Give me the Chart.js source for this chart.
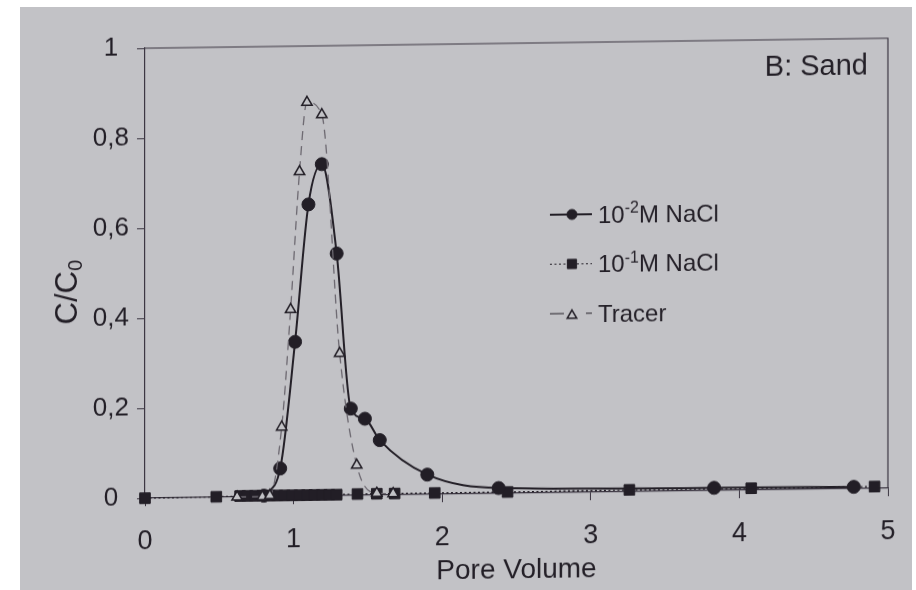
<!DOCTYPE html>
<html>
<head>
<meta charset="utf-8">
<title>B: Sand</title>
<script src="https://cdn.jsdelivr.net/npm/chart.js@4/dist/chart.umd.min.js"></script>
<style>
  html, body { margin: 0; padding: 0; background: #fff; }
  #sheet { position: absolute; left: 20px; top: 7px; width: 892px; height: 583px; background: #c2c2c6; }
  #wrap { position: absolute; left: 0; top: 0; width: 916px; height: 590px; transform: skewY(-0.77deg); }
  canvas { display: block; }
</style>
</head>
<body>
<div id="sheet"></div>
<div id="wrap"><canvas id="c" width="916" height="590"></canvas></div>
<script>
// breakthrough curves in the sand column
const lowSaltX = [0.80, 0.91, 1.01, 1.10, 1.19, 1.29, 1.385, 1.48, 1.58, 1.90, 2.38, 3.83, 4.77];
const lowSaltY = [0.002, 0.062, 0.343, 0.648, 0.737, 0.538, 0.193, 0.170, 0.122, 0.044, 0.012, 0.006, 0.004];

const highSaltX = [0, 0.48, 0.64, 0.69, 0.74, 0.79, 0.84, 0.89, 0.94, 0.99, 1.04, 1.09, 1.14, 1.19, 1.24, 1.29,
  1.43, 1.56, 1.68, 1.95, 2.44, 3.26, 4.08, 4.91];
const highSaltY = [0, 0.001, 0.002, 0.002, 0.002, 0.002, 0.002, 0.002, 0.002, 0.002, 0.002, 0.002, 0.002, 0.002, 0.002, 0.002,
  0.003, 0.003, 0.003, 0.003, 0.003, 0.004, 0.004, 0.004];

const tracerX = [0.62, 0.79, 0.84, 0.92, 0.98, 1.04, 1.09, 1.19, 1.31, 1.425, 1.56, 1.67];
const tracerY = [0, 0, 0.002, 0.154, 0.415, 0.721, 0.875, 0.847, 0.316, 0.067, 0.004, 0.003];

const seriesLabels = ['10⁻²M NaCl', '10⁻¹M NaCl', 'Tracer'];
const xTickLabels = ['0', '1', '2', '3', '4', '5'];
const yTickLabels = ['0', '0,2', '0,4', '0,6', '0,8', '1'];
const panelLabel = 'B: Sand';
const yTitle = 'C/C₀';
const xTitle = 'Pore Volume';

const INK = '#221e26';
const FRAME = '#3b3541';
const PAPER = '#c2c2c6';
const FONT = '"Liberation Sans", Arial, sans-serif';

function pairs(xs, ys) {
  return xs.map((x, i) => ({ x: x, y: ys[i] }));
}

// plain text with unicode super/subscripts drawn as real raised/lowered runs
const SUP = { '⁻': '-', '¹': '1', '²': '2' };
const SUB = { '₀': '0' };

function runs(text) {
  const out = [];
  for (const ch of text) {
    const kind = SUP[ch] ? 'sup' : SUB[ch] ? 'sub' : 'n';
    const c = SUP[ch] || SUB[ch] || ch;
    if (out.length && out[out.length - 1].kind === kind) out[out.length - 1].t += c;
    else out.push({ kind: kind, t: c });
  }
  return out;
}

function drawRich(ctx, text, x, y, size, align) {
  const parts = runs(text);
  const small = Math.round(size * 0.65);
  let total = 0;
  parts.forEach(p => {
    ctx.font = (p.kind === 'n' ? size : small) + 'px ' + FONT;
    p.w = ctx.measureText(p.t).width;
    total += p.w;
  });
  let cx = align === 'right' ? x - total : align === 'center' ? x - total / 2 : x;
  ctx.textAlign = 'left';
  ctx.textBaseline = 'alphabetic';
  parts.forEach(p => {
    ctx.font = (p.kind === 'n' ? size : small) + 'px ' + FONT;
    const dy = p.kind === 'sup' ? -0.39 * size : p.kind === 'sub' ? 0.16 * size : 0;
    ctx.fillText(p.t, cx, y + dy);
    cx += p.w;
  });
}

// legend sample: marker radius and line dash for each row
const legendMarkerRadius = [5, 6.5, 5.5];
const legendDash = [[], [2, 2.5], [14, 22, 6, 100]];

const decorations = {
  id: 'decorations',
  beforeDatasetsDraw(chart) {
    const { ctx, chartArea: a } = chart;
    ctx.save();
    ctx.strokeStyle = FRAME;
    ctx.lineWidth = 1.2;
    ctx.beginPath();
    ctx.moveTo(a.left, a.top);
    ctx.lineTo(a.right, a.top);
    ctx.lineTo(a.right, a.bottom);
    ctx.stroke();
    ctx.restore();
  },
  afterDraw(chart) {
    const { ctx } = chart;
    ctx.save();
    ctx.fillStyle = INK;
    drawRich(ctx, panelLabel, 868, 80, 29, 'right');

    // legend, inside the plot
    chart.data.datasets.forEach((ds, i) => {
      const y = 216 + i * 49.5;
      ctx.save();
      ctx.strokeStyle = INK;
      ctx.lineWidth = i === 0 ? 2 : 1.2;
      ctx.setLineDash(legendDash[i]);
      ctx.beginPath();
      ctx.moveTo(550, y);
      ctx.lineTo(592, y);
      ctx.stroke();
      ctx.setLineDash([]);
      ctx.fillStyle = ds.pointBackgroundColor;
      ctx.strokeStyle = ds.pointBorderColor;
      ctx.lineWidth = ds.pointBorderWidth;
      Chart.helpers.drawPoint(ctx, {
        pointStyle: ds.pointStyle,
        radius: legendMarkerRadius[i],
        rotation: 0,
        borderWidth: ds.pointBorderWidth
      }, 572, ds.pointStyle === 'triangle' ? y + 2 : y);
      ctx.restore();
      ctx.fillStyle = INK;
      drawRich(ctx, ds.label, 598, y + 8.6, 24, 'left');
    });

    // y axis title
    ctx.translate(66, 287);
    ctx.rotate(-Math.PI / 2);
    drawRich(ctx, yTitle, 0, 11.1, 31, 'center');
    ctx.restore();
  }
};

new Chart(document.getElementById('c'), {
  type: 'scatter',
  data: {
    datasets: [
      {
        label: seriesLabels[0],
        data: pairs(lowSaltX, lowSaltY),
        showLine: true,
        cubicInterpolationMode: 'monotone',
        borderColor: INK,
        borderWidth: 2,
        pointStyle: 'circle',
        pointRadius: 6.5,
        pointBackgroundColor: INK,
        pointBorderColor: INK,
        pointBorderWidth: 1,
        order: 1,
        clip: false
      },
      {
        label: seriesLabels[1],
        data: pairs(highSaltX, highSaltY),
        showLine: true,
        borderColor: INK,
        borderWidth: 1.2,
        borderDash: [2, 2.5],
        pointStyle: 'rect',
        pointRadius: 7.5,
        pointBackgroundColor: INK,
        pointBorderColor: INK,
        pointBorderWidth: 1,
        order: 2,
        clip: false
      },
      {
        label: seriesLabels[2],
        data: pairs(tracerX, tracerY),
        showLine: true,
        cubicInterpolationMode: 'monotone',
        borderColor: '#6c6870',
        borderWidth: 1.3,
        borderDash: [9, 6],
        pointStyle: 'triangle',
        pointRadius: 6,
        pointBackgroundColor: PAPER,
        pointBorderColor: INK,
        pointBorderWidth: 1.5,
        order: 0,
        clip: false
      }
    ]
  },
  options: {
    responsive: false,
    animation: false,
    events: [],
    layout: { padding: { left: 20, right: 28, top: 44, bottom: 0 } },
    plugins: {
      legend: { display: false },
      tooltip: { enabled: false }
    },
    scales: {
      x: {
        type: 'linear',
        min: 0,
        max: 5,
        afterFit(scale) { scale.height = 96; },
        ticks: {
          stepSize: 1,
          padding: 19,
          color: INK,
          font: { family: FONT, size: 27 },
          callback: (v, i) => xTickLabels[i]
        },
        grid: { drawOnChartArea: false, tickLength: 8, color: FRAME, lineWidth: 1 },
        border: { color: FRAME, width: 1.2 },
        title: {
          display: true,
          text: xTitle,
          color: INK,
          font: { family: FONT, size: 28 },
          padding: { top: 0, bottom: 2 }
        }
      },
      y: {
        type: 'linear',
        min: 0,
        max: 1,
        afterFit(scale) { scale.width = 125; },
        ticks: {
          stepSize: 0.2,
          padding: 8,
          crossAlign: 'center',
          color: INK,
          font: { family: FONT, size: 26 },
          callback: (v, i) => yTickLabels[i]
        },
        grid: { drawOnChartArea: false, tickLength: 8, color: FRAME, lineWidth: 1 },
        border: { color: FRAME, width: 1.2 }
      }
    }
  },
  plugins: [decorations]
});
</script>
</body>
</html>
